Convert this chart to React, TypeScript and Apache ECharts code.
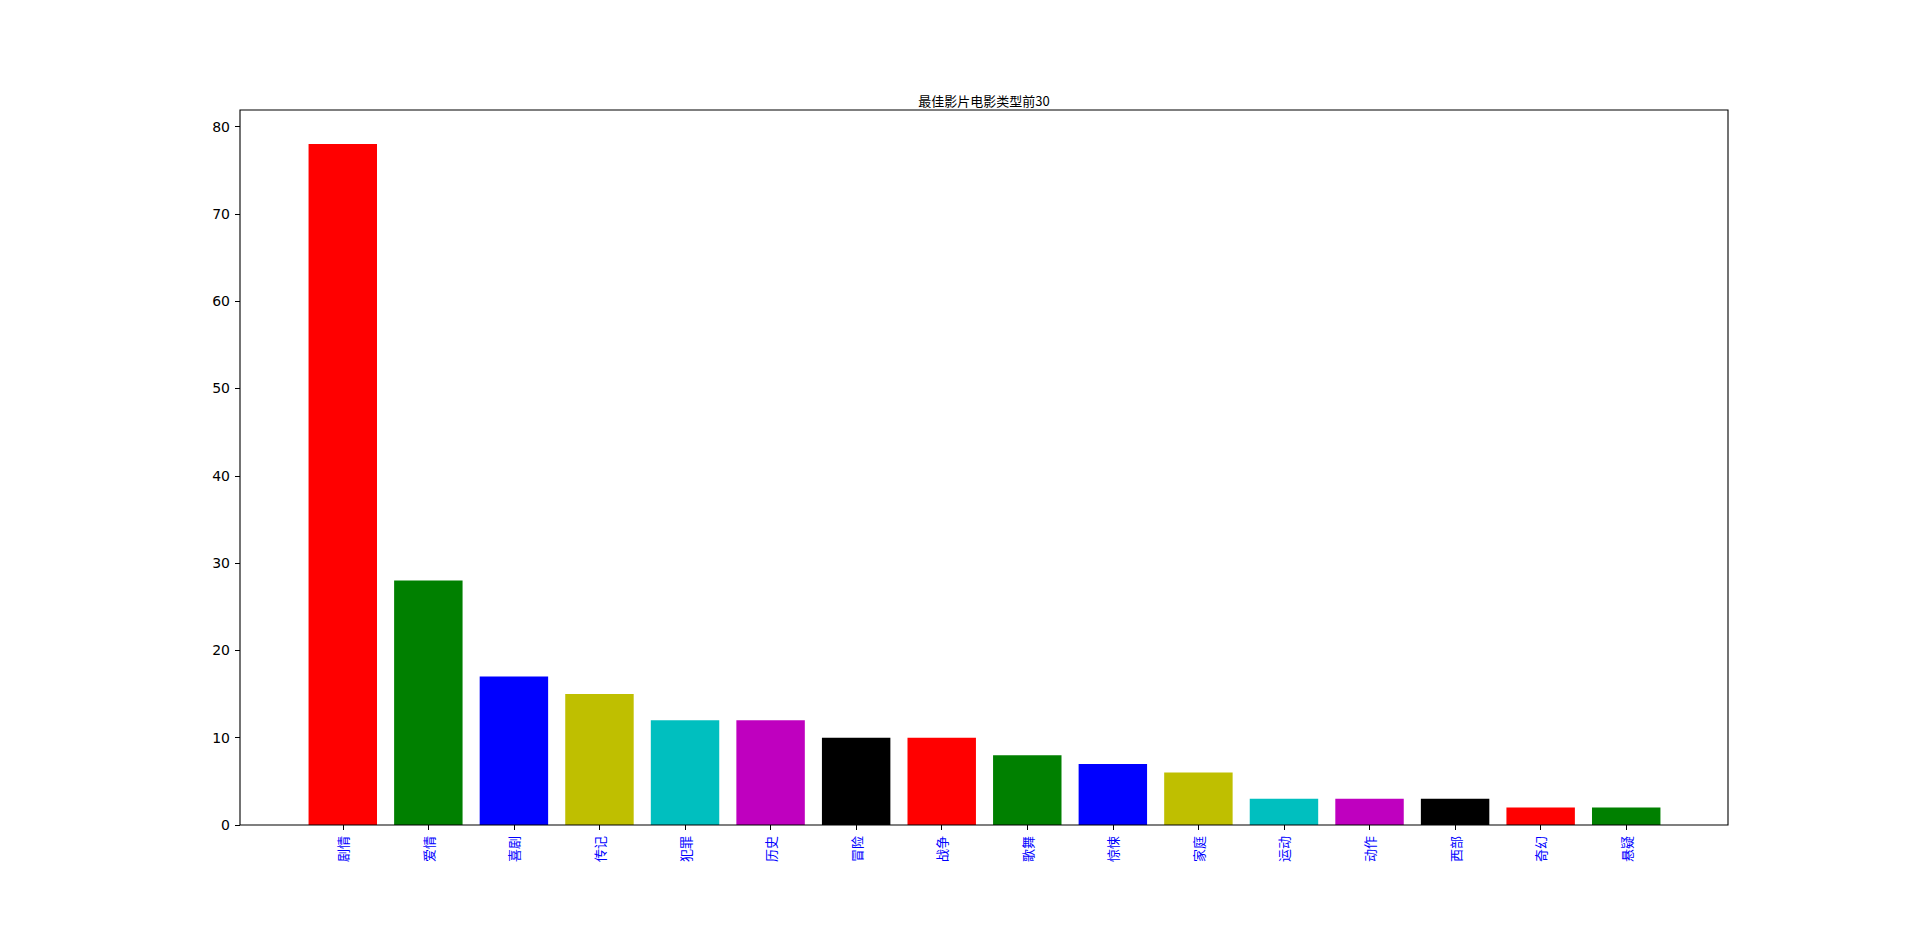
import React, { useEffect, useRef } from "react";
import * as echarts from "echarts";

const categories = ["剧情", "爱情", "喜剧", "传记", "犯罪", "历史", "冒险", "战争", "歌舞", "惊悚", "家庭", "运动", "动作", "西部", "奇幻", "悬疑"];
const counts = [78, 28, 17, 15, 12, 12, 10, 10, 8, 7, 6, 3, 3, 3, 2, 2];
const barColors = ["#ff0000", "#008000", "#0000ff", "#bfbf00", "#00bfbf", "#bf00bf", "#000000"];
const yTicks = [0, 10, 20, 30, 40, 50, 60, 70, 80];
const titleText = "最佳影片电影类型前30";

export default function App() {
  const ref = useRef<HTMLDivElement>(null);
  useEffect(() => {
    if (!ref.current) return;
    const chart = echarts.init(ref.current, undefined, { renderer: "svg" });
    const frameL = 240, frameT = 110, frameR = 1728, frameB = 825;
    const gridL = 300, gridR = 1669;
    chart.setOption({
      animation: false,
      backgroundColor: "#ffffff",
      grid: { left: gridL, right: 1920 - gridR, top: frameT, bottom: 927 - frameB, containLabel: false },
      xAxis: {
        type: "category",
        data: categories,
        boundaryGap: true,
        axisLine: { show: false },
        axisTick: { show: true, alignWithLabel: true, length: 5, lineStyle: { color: "#000", width: 1 } },
        axisLabel: {
          rotate: 90,
          interval: 0,
          margin: 11,
          color: "#0000ff",
          fontSize: 13,
          fontFamily: "Noto Sans CJK SC",
        },
        splitLine: { show: false },
      },
      yAxis: {
        type: "value",
        min: 0,
        max: 81.9,
        interval: 10,
        offset: gridL - frameL,
        axisLine: { show: false },
        axisTick: { show: true, length: 5, lineStyle: { color: "#000", width: 1 }, customValues: yTicks },
        axisLabel: {
          margin: 10,
          color: "#000",
          fontSize: 14,
          fontFamily: "DejaVu Sans",
          customValues: yTicks,
          formatter: (v: number) => (yTicks.indexOf(v) >= 0 ? String(v) : ""),
        },
        splitLine: { show: false },
      },
      series: [
        {
          type: "bar",
          barWidth: "80%",
          data: counts.map((v, i) => ({ value: v, itemStyle: { color: barColors[i % barColors.length] } })),
        },
      ],
      graphic: [
        {
          type: "rect",
          z: 100,
          shape: { x: frameL, y: frameT, width: frameR - frameL, height: frameB - frameT },
          style: { fill: "none", stroke: "#000", lineWidth: 1.1 },
        },
        {
          type: "text",
          z: 100,
          x: (frameL + frameR) / 2,
          y: 100,
          style: {
            text: titleText,
            fill: "#000",
            fontSize: 13,
            fontFamily: "Noto Sans CJK SC",
            textAlign: "center",
            textVerticalAlign: "middle",
          },
        },
      ],
    });
    return () => chart.dispose();
  }, []);
  return <div ref={ref} style={{ position: "absolute", left: 0, top: 0, width: 1920, height: 927 }} />;
}
